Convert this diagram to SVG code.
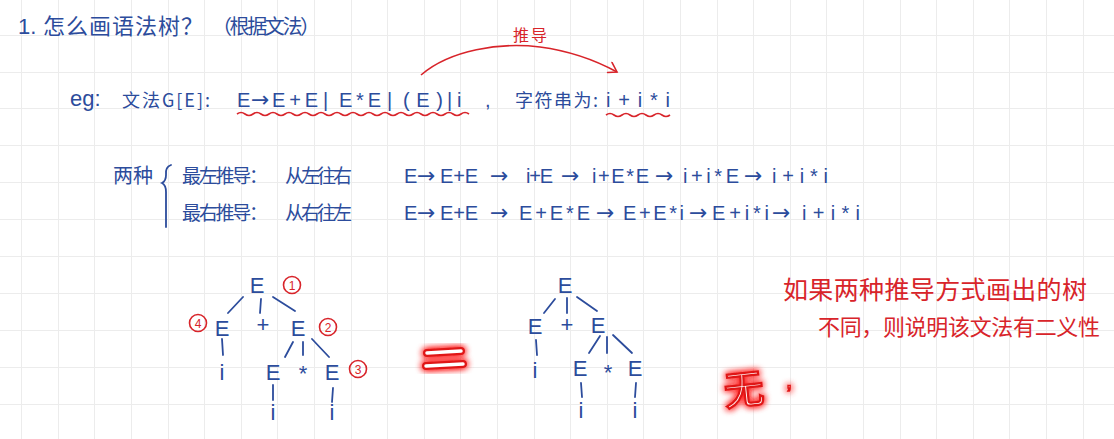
<svg xmlns="http://www.w3.org/2000/svg" width="1114" height="439" viewBox="0 0 1114 439">
<defs>
<style>
.grid{stroke:#ececec;stroke-width:1;fill:none}
.b{fill:#2c4c9c;font-family:"Liberation Sans","DejaVu Sans","Noto Sans CJK SC",sans-serif}
.cn{fill:#2c4c9c;font-family:"Noto Sans CJK SC","Liberation Sans",sans-serif}
.r{fill:#d8242a;font-family:"Noto Sans CJK SC","Liberation Sans",sans-serif}
.ar{font-family:"DejaVu Sans",sans-serif;font-size:22px}
.edge{stroke:#2c4c9c;stroke-width:1.8;stroke-linecap:round;fill:none}
.wave{stroke:#d8242a;stroke-width:1.6;fill:none}
.circ{stroke:#d8242a;stroke-width:1.6;fill:none}
.num{fill:#d8242a;font-family:"Liberation Sans",sans-serif;font-size:12px;text-anchor:middle}
.t{font-size:22px;text-anchor:middle}
</style>
<filter id="glow" x="-50%" y="-50%" width="200%" height="200%">
<feGaussianBlur in="SourceAlpha" stdDeviation="3.5" result="b"/>
<feFlood flood-color="#ff1010" flood-opacity="0.9"/>
<feComposite in2="b" operator="in" result="g"/>
<feMerge><feMergeNode in="g"/><feMergeNode in="g"/><feMergeNode in="SourceGraphic"/></feMerge>
</filter>
<marker id="arr" markerWidth="14" markerHeight="14" refX="12" refY="7" orient="auto" markerUnits="userSpaceOnUse">
<path d="M3,1 L12,7 L4,12" fill="none" stroke="#d8242a" stroke-width="1.6" stroke-linecap="round"/>
</marker>
</defs>
<rect width="1114" height="439" fill="#ffffff"/>
<g id="grid" class="grid">
<path d="M21.5,0V439M58.5,0V439M94.5,0V439M131.5,0V439M168.5,0V439M204.5,0V439M241.5,0V439M277.5,0V439M314.5,0V439M351.5,0V439M387.5,0V439M424.5,0V439M460.5,0V439M497.5,0V439M534.5,0V439M570.5,0V439M607.5,0V439M643.5,0V439M680.5,0V439M717.5,0V439M753.5,0V439M790.5,0V439M826.5,0V439M863.5,0V439M900.5,0V439M936.5,0V439M973.5,0V439M1009.5,0V439M1046.5,0V439M1083.5,0V439"/>
<path d="M0,35.5H1114M0,72.5H1114M0,108.5H1114M0,145.5H1114M0,182.5H1114M0,219.5H1114M0,256.5H1114M0,293.5H1114M0,330.5H1114M0,367.5H1114M0,404.5H1114"/>
</g>

<g id="title">
<text class="b" x="18" y="34" font-size="22">1.</text>
<text class="cn" x="43" y="34" font-size="22" textLength="160" lengthAdjust="spacing">怎么画语法树？</text>
<text class="cn" x="212" y="34" font-size="20" textLength="108" lengthAdjust="spacing">（根据文法）</text>
</g>

<g id="grammar">
<text class="b" x="70" y="106" font-size="22">eg:</text>
<text class="cn" x="122" y="107" font-size="18" textLength="88" lengthAdjust="spacing">文法G[E]:</text>
<text class="b" y="107" font-size="20"><tspan x="237">E</tspan><tspan class="ar" x="251">→</tspan><tspan x="272" textLength="46" lengthAdjust="spacing">E+E</tspan><tspan x="323">|</tspan><tspan x="339" textLength="42" lengthAdjust="spacing">E*E</tspan><tspan x="387">|</tspan><tspan x="403" textLength="40" lengthAdjust="spacing">(E)</tspan><tspan x="447">|</tspan><tspan x="457">i</tspan><tspan x="485">,</tspan></text>
<text class="cn" x="515" y="107" font-size="18" textLength="83" lengthAdjust="spacing">字符串为:</text>
<text class="b" x="606" y="107" font-size="20" textLength="64" lengthAdjust="spacing">i+i*i</text>
<path class="wave" d="M237,114 q4,-3 8,0 t8,0 t8,0 t8,0 t8,0 t8,0 t8,0 t8,0 t8,0 t8,0 t8,0 t8,0 t8,0 t8,0 t8,0 t8,0 t8,0 t8,0 t8,0 t8,0 t8,0 t8,0 t8,0 t8,0 t8,0 t8,0 t8,0 t8,0 t8,0"/>
<path class="wave" d="M606,115 q4,-3 8,0 t8,0 t8,0 t8,0 t8,0 t8,0 t8,0 t8,0"/>
</g>

<g id="derive-arc">
<path d="M421,75 C450,50 500,42 540,47 C570,51 595,60 617,72" fill="none" stroke="#d8242a" stroke-width="1.6" marker-end="url(#arr)"/>
<text class="r" x="513" y="41" font-size="16" textLength="34" lengthAdjust="spacing">推导</text>
</g>

<g id="derivations">
<text class="cn" x="113" y="183" font-size="20" textLength="40" lengthAdjust="spacing">两种</text>
<path d="M171,165 Q165,167 166,175 Q166,181 162,183 Q166,185 166,192 L166,227" fill="none" stroke="#2c4c9c" stroke-width="1.8" stroke-linecap="round"/>
<text class="cn" x="182" y="183" font-size="19" textLength="86" lengthAdjust="spacing">最左推导：</text>
<text class="cn" x="285" y="183" font-size="19" textLength="67" lengthAdjust="spacing">从左往右</text>
<text class="b" y="183" font-size="20"><tspan x="404">E</tspan><tspan class="ar" x="417">→</tspan><tspan x="440" textLength="38" lengthAdjust="spacing">E+E</tspan><tspan class="ar" x="490">→</tspan><tspan x="526" textLength="27" lengthAdjust="spacing">i+E</tspan><tspan class="ar" x="561">→</tspan><tspan x="592" textLength="57" lengthAdjust="spacing">i+E*E</tspan><tspan class="ar" x="655">→</tspan><tspan x="683" textLength="56" lengthAdjust="spacing">i+i*E</tspan><tspan class="ar" x="744">→</tspan><tspan x="772" textLength="56" lengthAdjust="spacing">i+i*i</tspan></text>
<text class="cn" x="182" y="220" font-size="19" textLength="86" lengthAdjust="spacing">最右推导：</text>
<text class="cn" x="285" y="220" font-size="19" textLength="67" lengthAdjust="spacing">从右往左</text>
<text class="b" y="220" font-size="20"><tspan x="404">E</tspan><tspan class="ar" x="417">→</tspan><tspan x="440" textLength="38" lengthAdjust="spacing">E+E</tspan><tspan class="ar" x="490">→</tspan><tspan x="519" textLength="71" lengthAdjust="spacing">E+E*E</tspan><tspan class="ar" x="596">→</tspan><tspan x="623" textLength="61" lengthAdjust="spacing">E+E*i</tspan><tspan class="ar" x="689">→</tspan><tspan x="712" textLength="57" lengthAdjust="spacing">E+i*i</tspan><tspan class="ar" x="772">→</tspan><tspan x="802" textLength="58" lengthAdjust="spacing">i+i*i</tspan></text>
</g>

<g id="connectors">
<path class="edge" d="M243,297 L228,313 M261,299 L260,313 M273,297 L295,311 M222,339 L223,355 M293,342 L285,357 M303,342 L303,355 M312,339 L329,357 M273,385 L273,400 M333,388 L332,402"/>
<path class="edge" d="M555,299 L544,313 M567,298 L567,313 M577,297 L597,311 M536,340 L537,355 M600,336 L589,353 M607,337 L607,353 M613,335 L632,353 M581,383 L582,397 M636,383 L635,397"/>
</g>

<g id="tree1">
<g id="t1-root"><text class="b t" x="257" y="293">E</text><ellipse class="circ" cx="292" cy="285" rx="8.5" ry="8.5"/><text class="num" x="292" y="289.5">1</text></g>
<g id="t1-left"><text class="b t" x="222" y="336">E</text><ellipse class="circ" cx="198" cy="323" rx="8.5" ry="8.5"/><text class="num" x="198" y="327.5">4</text></g>
<g id="t1-plus"><text class="b t" x="263" y="332">+</text></g>
<g id="t1-right"><text class="b t" x="298" y="336">E</text><ellipse class="circ" cx="328" cy="327" rx="8.5" ry="8.5"/><text class="num" x="328" y="331.5">2</text></g>
<g id="t1-i1"><text class="b t" x="222" y="380">i</text></g>
<g id="t1-e3"><text class="b t" x="273" y="380">E</text></g>
<g id="t1-star"><text class="b t" x="303" y="381">*</text></g>
<g id="t1-e4"><text class="b t" x="332" y="380">E</text><ellipse class="circ" cx="358" cy="369" rx="8.5" ry="8.5"/><text class="num" x="358" y="373.5">3</text></g>
<g id="t1-i2"><text class="b t" x="273" y="420">i</text></g>
<g id="t1-i3"><text class="b t" x="332" y="420">i</text></g>
</g>

<g id="equals" filter="url(#glow)">
<path d="M427,353 L461,351 M426,366 L463,364" stroke="#e01818" stroke-width="8" stroke-linecap="round" fill="none"/>
<path d="M427,353 L461,351 M426,366 L463,364" stroke="#ffffff" stroke-width="3.5" stroke-linecap="round" fill="none"/>
</g>

<g id="tree2">
<g id="t2-root"><text class="b t" x="565" y="293">E</text></g>
<g id="t2-left"><text class="b t" x="535" y="334">E</text></g>
<g id="t2-plus"><text class="b t" x="567" y="332">+</text></g>
<g id="t2-right"><text class="b t" x="598" y="333">E</text></g>
<g id="t2-i1"><text class="b t" x="535" y="378">i</text></g>
<g id="t2-e3"><text class="b t" x="580" y="376">E</text></g>
<g id="t2-star"><text class="b t" x="608" y="380">*</text></g>
<g id="t2-e4"><text class="b t" x="635" y="376">E</text></g>
<g id="t2-i2"><text class="b t" x="581" y="418">i</text></g>
<g id="t2-i3"><text class="b t" x="635" y="418">i</text></g>
</g>

<g id="note">
<text class="r" x="783" y="299" font-size="25" textLength="304" lengthAdjust="spacing">如果两种推导方式画出的树</text>
<text class="r" x="818" y="335" font-size="22" textLength="282" lengthAdjust="spacing">不同，则说明该文法有二义性</text>
</g>

<g id="none-mark" filter="url(#glow)">
<text x="724" y="404" font-size="40" fill="#ffffff" stroke="#e01818" stroke-width="2.2" font-family="Noto Sans CJK SC,sans-serif" transform="rotate(-6 745 390)">无</text>
<text x="786" y="388" font-size="22" fill="#ffffff" stroke="#e01818" stroke-width="1.5" font-family="Liberation Sans,sans-serif">,</text>
</g>
</svg>
